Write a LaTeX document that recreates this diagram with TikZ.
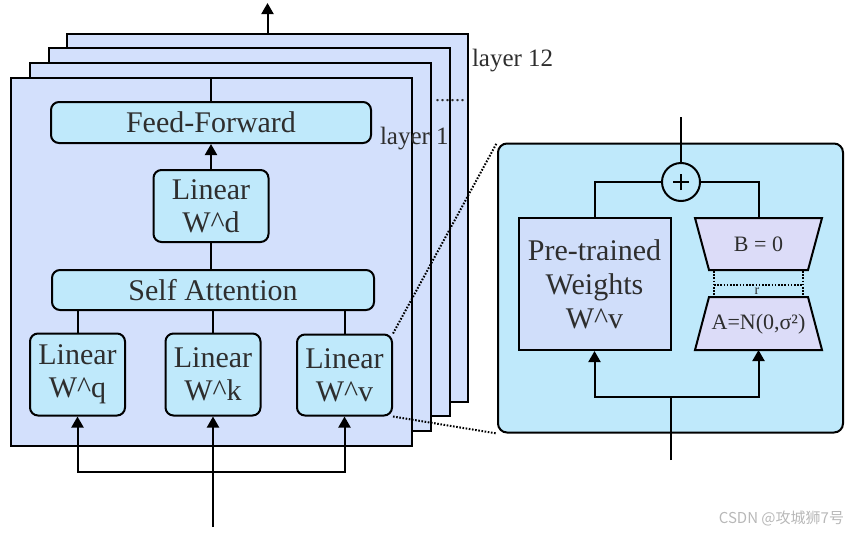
\documentclass[tikz,border=0pt]{standalone}
\usepackage{fontspec}
\setmainfont{Liberation Serif}
\newfontfamily\cjk{Noto Sans CJK SC}
\usetikzlibrary{arrows.meta}
\definecolor{layerfill}{HTML}{D3E0FC}
\definecolor{boxfill}{HTML}{BFE9FB}
\definecolor{pwfill}{HTML}{D0DEFA}
\definecolor{trapfill}{HTML}{DCDCF8}
\definecolor{txt}{HTML}{2E2E2E}
\begin{document}
\begin{tikzpicture}[x=1pt,y=-1pt,line width=2pt,
  layer/.style={draw, fill=layerfill, minimum width=401pt, minimum height=368pt, inner sep=0pt},
  blk/.style={draw, fill=boxfill, rounded corners=8pt, inner sep=0pt, align=center, text=txt,
    font=\fontsize{30}{33}\selectfont},
  arr/.style={-{Triangle[length=11pt,width=12pt]}},
  dots/.style={line width=2pt, dash pattern=on 1.6pt off 1.6pt},
  lbl/.style={text=txt, font=\fontsize{25}{28}\selectfont, inner sep=0pt}]
\useasboundingbox (0,0) rectangle (850,533);
% layers
\node[layer] (L4) at (267.5,218) {};
\node[layer] (L3) at (249,232) {};
\node[layer] (L2) at (230.5,247) {};
\node[layer] (L1) at (211,262) {};
\node[lbl, anchor=west] (lab12) at (471,61) {layer 12};
\node[lbl, anchor=west] (lab1) at (379,139) {layer 1};
\node[lbl, font=\fontsize{20}{24}\selectfont] (ldots) at (450,101) {......};
\coordinate (outTop) at (267.5,3);
\draw[arr] (L4.north) -- (outTop);
% blocks
\node[blk, minimum width=320pt, minimum height=41pt] (FF) at (211,122.5) {Feed-Forward};
\node[blk, minimum width=115pt, minimum height=72pt] (Wd) at (211,206) {Linear\\W\textasciicircum d};
\node[blk, minimum width=322pt, minimum height=40pt] (SA) at (213,290) {Self Attention};
\node[blk, minimum width=95pt, minimum height=82pt] (Wq) at (77.5,374.5) {Linear\\W\textasciicircum q};
\node[blk, minimum width=95pt, minimum height=82pt] (Wk) at (213,374.5) {Linear\\W\textasciicircum k};
\node[blk, minimum width=95pt, minimum height=81pt] (Wv) at (344.5,375) {Linear\\W\textasciicircum v};
\draw (FF.north) -- (FF.north |- L1.north);
\draw[arr] (Wd.north) -- (FF.south);
\draw (SA.north -| Wd.south) -- (Wd.south);
\draw (Wq.north) -- (Wq.north |- SA.south);
\draw (Wk.north) -- (Wk.north |- SA.south);
\draw (Wv.north) -- (Wv.north |- SA.south);
\coordinate (inL) at (213,527);
\coordinate (splitL) at (213,472);
\draw[arr] (inL) -- (Wk.south);
\draw[arr] (splitL) -| (Wq.south);
\draw[arr] (splitL) -| (Wv.south);
% right panel
\node[draw, fill=boxfill, rounded corners=9pt, minimum width=345pt, minimum height=289pt, inner sep=0pt] (P) at (670.5,288) {};
\draw[dots] (Wv.north east) -- (P.north west);
\draw[dots] (Wv.south east) -- (P.south west);
\node[draw, fill=boxfill, circle, minimum size=38pt, inner sep=0pt,
  path picture={\draw[line width=2pt] ([xshift=-8pt]path picture bounding box.center) -- ([xshift=8pt]path picture bounding box.center);
                \draw[line width=2pt] ([yshift=-8pt]path picture bounding box.center) -- ([yshift=8pt]path picture bounding box.center);}] (plus) at (681,182) {};
\coordinate (outR) at (681,117);
\draw (plus.north) -- (outR);
\node[draw, fill=pwfill, minimum width=152pt, minimum height=132pt, inner sep=0pt, align=center, text=txt,
  font=\fontsize{30}{34}\selectfont] (PW) at (594.5,284) {Pre-trained\\Weights\\W\textasciicircum v};
\coordinate (Btop) at (758.5,218);
\coordinate (Abot) at (758.5,350);
\draw[fill=trapfill] (695,218) -- (822,218) -- (808,270) -- (709,270) -- cycle;
\draw[fill=trapfill] (709,297) -- (808,297) -- (822,350) -- (695,350) -- cycle;
\node[text=txt, font=\fontsize{22}{24}\selectfont, inner sep=0pt] (B) at (758.5,244) {B = 0};
\node[text=txt, font=\fontsize{22}{24}\selectfont, inner sep=0pt] (A) at (758.5,324) {A=N(0,σ²)};
\draw[dots, line width=1.4pt] (714,271) -- (714,297);
\draw[dots, line width=1.4pt] (803,271) -- (803,297);
\draw[dots, line width=2pt] (714,285) -- (803,285);
\node[text=txt, font=\fontsize{14}{15}\selectfont, inner sep=0pt] (r) at (757,291) {r};
\draw (PW.north) |- (plus.west);
\draw (plus.east) -| (Btop);
\coordinate (inR) at (671,460);
\coordinate (splitR) at (671,397);
\draw (inR) -- (splitR);
\draw[arr] (splitR) -| (PW.south);
\draw[arr] (splitR) -| (Abot);
\node[text=black!28, font=\cjk\fontsize{15}{18}\selectfont, anchor=east, inner sep=0pt] (wm) at (845,518) {CSDN @攻城狮7号};
\end{tikzpicture}
\end{document}
